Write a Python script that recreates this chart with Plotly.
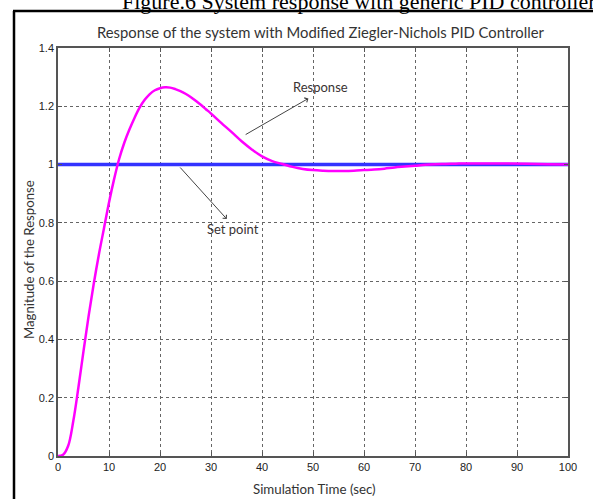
import plotly.graph_objects as go

# Simulation time (sec)
time = [0, 1, 2, 3, 4, 5, 6, 7, 8, 9, 10, 11, 12, 13, 14, 15, 16, 17, 18, 19, 20,
        21, 22, 23, 24, 25, 26, 27, 28, 29, 30, 32, 34, 36, 38, 40, 42, 44, 46, 48,
        50, 52, 54, 56, 58, 60, 62, 64, 66, 68, 70, 72, 74, 76, 78, 80, 84, 88, 92,
        96, 100]
# Response of the system
response = [0, 0.004, 0.035, 0.12, 0.235, 0.36, 0.48, 0.59, 0.69, 0.78, 0.87, 0.95,
            1.02, 1.075, 1.12, 1.16, 1.195, 1.222, 1.242, 1.255, 1.262, 1.265, 1.264,
            1.259, 1.252, 1.243, 1.232, 1.219, 1.205, 1.19, 1.175, 1.143, 1.112, 1.08,
            1.052, 1.028, 1.012, 1.002, 0.992, 0.985, 0.981, 0.979, 0.978, 0.978,
            0.979, 0.981, 0.983, 0.986, 0.99, 0.993, 0.996, 0.999, 1.001, 1.002, 1.003,
            1.004, 1.004, 1.004, 1.003, 1.001, 1.0]
# Set point
setpoint_time = [0, 100]
setpoint = [1, 1]

x_ticks = [0, 10, 20, 30, 40, 50, 60, 70, 80, 90, 100]
y_ticks = [0, 0.2, 0.4, 0.6, 0.8, 1, 1.2, 1.4]

W, H = 593, 499
L, R, T, B = 58, 25, 48, 43
pw, ph = W - L - R, H - T - B


def px(xp):
    return (xp - L) / pw


def py(yp):
    return (H - B - yp) / ph


fig = go.Figure()
fig.add_trace(go.Scatter(x=setpoint_time, y=setpoint, mode="lines",
                         line=dict(color="#3333ff", width=3.5), showlegend=False))
fig.add_trace(go.Scatter(x=time, y=response, mode="lines", line_shape="spline",
                         line=dict(color="#ff00ff", width=2.5), showlegend=False))

axis_common = dict(showline=True, linecolor="#555555", linewidth=1.5, mirror="ticks",
                   ticks="inside", ticklen=4, tickcolor="#555555",
                   showgrid=True, gridcolor="#666666", griddash="dot", gridwidth=1,
                   zeroline=False, automargin=False,
                   tickfont=dict(family="Liberation Sans", size=11, color="#222222"))

fig.update_xaxes(range=[0, 100], tickvals=x_ticks, **axis_common)
fig.update_yaxes(range=[0, 1.4], tickvals=y_ticks, **axis_common)

annotations = [
    dict(x=49.1, y=1.227, ax=36.5, ay=1.10, xref="x", yref="y", axref="x", ayref="y",
         showarrow=True, arrowhead=4, arrowsize=1, arrowwidth=1, arrowcolor="#444444",
         text=""),
    dict(x=33.1, y=0.813, ax=23.7, ay=0.995, xref="x", yref="y", axref="x", ayref="y",
         showarrow=True, arrowhead=4, arrowsize=1, arrowwidth=1, arrowcolor="#444444",
         text=""),
    dict(x=51.4, y=1.267, xref="x", yref="y", showarrow=False, text="Response",
         font=dict(family="Lato", size=13, color="#3a3333")),
    dict(x=34.3, y=0.779, xref="x", yref="y", showarrow=False, text="Set point",
         font=dict(family="Lato", size=13, color="#3a3333")),
    dict(x=px(320), y=py(32), xref="paper", yref="paper", showarrow=False,
         xanchor="center", yanchor="middle",
         text="Response of the system with Modified Ziegler-Nichols PID Controller",
         font=dict(family="Lato", size=14.8, color="#333333")),
    dict(x=px(314), y=py(489), xref="paper", yref="paper", showarrow=False,
         xanchor="center", yanchor="middle",
         text="Simulation Time (sec)",
         font=dict(family="Lato", size=13.3, color="#333333")),
    dict(x=px(29), y=py(260), xref="paper", yref="paper", showarrow=False,
         xanchor="center", yanchor="middle",
         textangle=-90, text="Magnitude of the Response",
         font=dict(family="Lato", size=13.2, color="#333333")),
    dict(x=px(120), y=py(16), xref="paper", yref="paper", xanchor="left",
         yanchor="bottom", showarrow=False,
         text="Figure.6 System response with generic PID controller",
         font=dict(family="Liberation Serif", size=22, color="#000000")),
]

shapes = [
    dict(type="line", xref="paper", yref="paper", x0=px(14), x1=px(14),
         y0=py(11), y1=py(505), line=dict(color="#000000", width=2.5)),
    dict(type="line", xref="paper", yref="paper", x0=px(13), x1=px(600),
         y0=py(11), y1=py(11), line=dict(color="#000000", width=2.5)),
]

fig.update_layout(width=W, height=H, margin=dict(l=L, r=R, t=T, b=B),
                  paper_bgcolor="white", plot_bgcolor="white",
                  annotations=annotations, shapes=shapes, showlegend=False)

fig.write_html("out.html", config={"displayModeBar": False},
               post_script="document.body.style.margin='0';document.body.style.overflow='hidden';")
